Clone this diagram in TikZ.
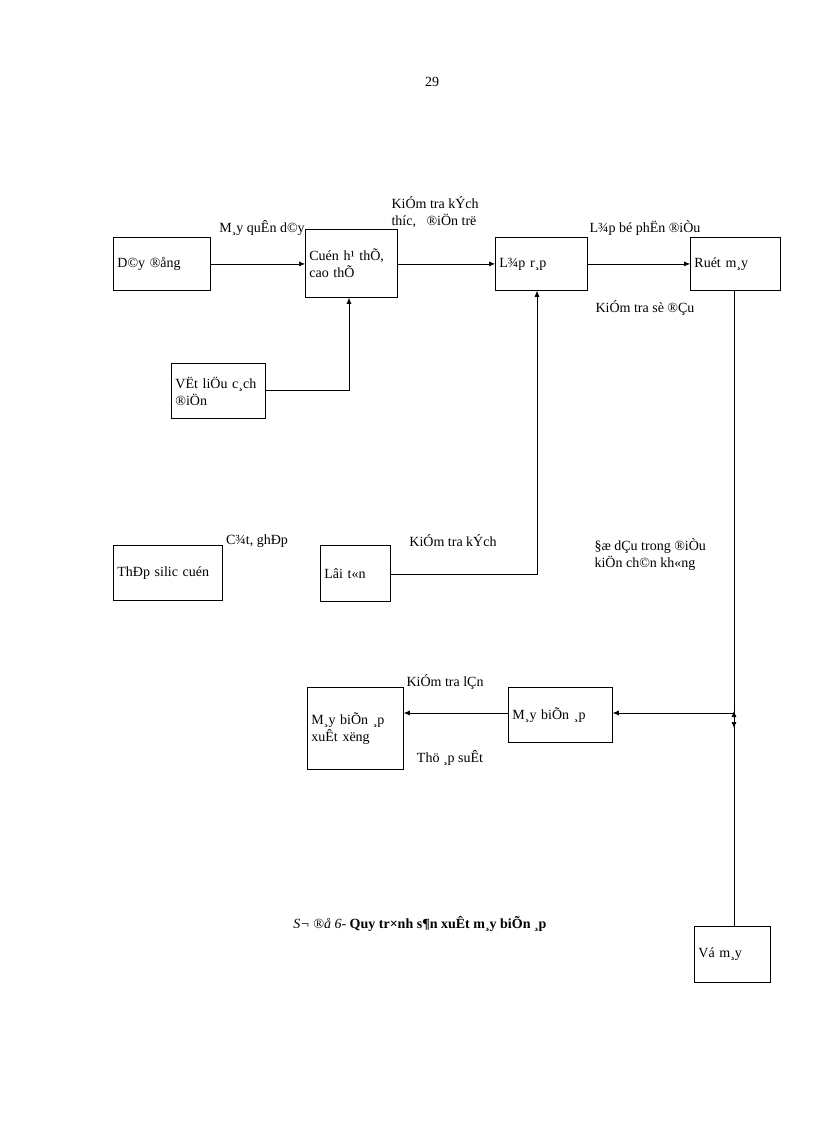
\documentclass[tikz,border=0pt]{standalone}
\usepackage{fontspec}
\setmainfont{Liberation Serif}
\begin{document}
\begin{tikzpicture}[x=1pt,y=-1pt,
 box/.style={draw,thick,anchor=north west,inner sep=0pt},
 lbl/.style={font=\fontsize{14}{17}\selectfont,align=left},
 arr/.style={-{Latex[length=6pt,width=5pt]}},
 ln/.style={semithick}]
\usetikzlibrary{arrows.meta}
\useasboundingbox (0,0) rectangle (816,1123);
\tikzset{bx/.style args={#1/#2}{draw,thick,minimum width=#1,minimum height=#2,anchor=north west,font=\fontsize{14}{17}\selectfont,align=left,text width=#1-8pt,inner sep=3pt}}
\node[lbl] (pg) at (432,82) {29};
\node[bx=97/53] (dong) at (113,237) {D©y ®ång};
\node[bx=92/68] (cuon) at (305,229) {Cuén h¹ thÕ,\\cao thÕ};
\node[bx=92/53] (lap) at (495,237) {L¾p r¸p};
\node[bx=90/53] (ruot) at (690,237) {Ruét m¸y};
\node[bx=94/55] (vl) at (171,363) {VËt liÖu c¸ch ®iÖn};
\node[bx=109/55] (thep) at (113,545) {ThÐp silic  cuén};
\node[bx=70/56] (loi) at (320,545) {Lâi t«n};
\node[bx=104/55] (mba) at (508,687) {M¸y biÕn ¸p};
\node[bx=96/82] (xx) at (307,687) {M¸y biÕn ¸p\\xuÊt x­ëng};
\node[bx=76/56] (vo) at (694,926) {Vá m¸y};
\coordinate (c1) at (349,390);
\coordinate (c2) at (537,574);
\coordinate (j) at (734,713);
\draw[ln,arr] (dong.east) -- (cuon.west|-dong.east);
\draw[ln,arr] (cuon.east|-lap.west) -- (lap.west);
\draw[ln,arr] (lap.east) -- (ruot.west);
\draw[ln,arr] (vl.east|-c1) -- (c1) -- (cuon.south-|c1);
\draw[ln,arr] (loi.east|-c2) -- (c2) -- (lap.south-|c2);
\draw[ln,arr] (ruot.south-|j) -- ([yshift=-15pt]j);
\draw[ln,arr] (vo.north-|j) -- ([yshift=2pt]j);
\draw[ln,arr] (j) -- (mba.east|-j);
\draw[ln,arr] (mba.west|-j) -- (xx.east|-j);
\node[lbl] (t1) at (262,228) {M¸y quÊn d©y};
\node[lbl,anchor=west] (t2) at (388,212) {KiÓm tra kÝch\\thíc,\ \ \ ®iÖn trë};
\node[lbl] (t3) at (645,228) {L¾p bé phËn ®iÒu};
\node[lbl] (t4) at (645,308) {KiÓm tra sè ®Çu};
\node[lbl] (t5) at (257,541) {C¾t, ghÐp};
\node[lbl] (t6) at (453,541) {KiÓm tra kÝch};
\node[lbl,anchor=west] (t7) at (591,554) {§æ dÇu trong ®iÒu\\kiÖn ch©n kh«ng};
\node[lbl] (t8) at (445,682) {KiÓm tra lÇn};
\node[lbl] (t9) at (450,758) {Thö ¸p suÊt};
\node[lbl] (cap) at (420,924) {\textit{S¬ ®å 6-} \textbf{Quy tr×nh s¶n xuÊt m¸y biÕn ¸p}};
\end{tikzpicture}
\end{document}
